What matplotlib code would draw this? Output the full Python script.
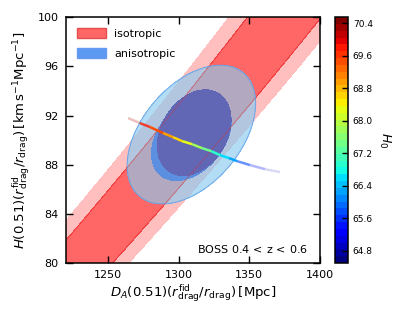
import numpy as np
import matplotlib
matplotlib.use('Agg')
import matplotlib.pyplot as plt
from matplotlib.collections import LineCollection
from matplotlib.patches import Patch
import matplotlib.colors as mcolors

# isotropic constraint: bands of constant DA^2/H (edges)
iso_K_2sig = [17840, 19990]
iso_K_1sig = [18190, 19630]

# anisotropic constraint: mean, errors, correlation
aniso_mean = [1309.0, 90.45]     # DA, H
aniso_sigma = [18.3, 2.27]
aniso_corr = 0.45

# 68% region: outer (lighter) part and darker core
inner_mean = [1309.0, 90.2]
inner_sigma = [18.6, 2.3]
inner_corr = 0.38
core_mean = [1311.0, 90.6]
core_sigma = [17.2, 2.3]
core_corr = 0.3

# samples coloured by H0 (points along the degeneracy line)
line_DA = [1264.2, 1272.7, 1279.8, 1289.0, 1296.0, 1302.4, 1309.5, 1316.5,
           1322.9, 1329.3, 1335.6, 1341.3, 1350.5, 1361.1, 1371.7]
line_H = [91.79, 91.38, 91.06, 90.57, 90.24, 89.92, 89.67, 89.35,
          89.11, 88.78, 88.54, 88.29, 87.97, 87.64, 87.40]
line_H0 = [70.4, 70.0, 69.6, 69.2, 68.8, 68.4, 68.0, 67.6,
           67.2, 66.8, 66.4, 66.0, 65.6, 65.2, 64.8]

H0_min, H0_max = 64.5, 70.55
cb_ticks = [64.8, 65.6, 66.4, 67.2, 68.0, 68.8, 69.6, 70.4]

fig = plt.figure(figsize=(4.05, 3.17), dpi=100)
ax = fig.add_axes([0.162, 0.170, 0.628, 0.776])
cax = fig.add_axes([0.827, 0.170, 0.032, 0.776])

# grid for the likelihood surfaces
X, Y = np.meshgrid(np.linspace(1220, 1400, 500), np.linspace(80, 100, 500))

def chi2_map(mean, sig, r):
    dx = (X - mean[0]) / sig[0]
    dy = (Y - mean[1]) / sig[1]
    return (dx**2 - 2 * r * dx * dy + dy**2) / (1 - r**2)

# isotropic bands
K = X**2 / Y
light = (1, 0, 0, 0.25)
dark = (1, 0, 0, 0.6)
ax.contourf(X, Y, K, levels=[iso_K_2sig[0], iso_K_1sig[0], iso_K_1sig[1], iso_K_2sig[1]],
            colors=[light, dark, light])
ax.contour(X, Y, K, levels=iso_K_1sig, colors=[(0.85, 0.2, 0.2, 0.5)], linewidths=0.6)

# anisotropic ellipses
chi2 = chi2_map(aniso_mean, aniso_sigma, aniso_corr)
outer = (0.54, 0.80, 0.94, 0.66)
ax.contourf(X, Y, chi2, levels=[0, 6.17], colors=[outer])
ax.contour(X, Y, chi2, levels=[6.17], colors=[(0.35, 0.6, 0.9, 0.7)], linewidths=0.8)
inner = chi2_map(inner_mean, inner_sigma, inner_corr)
ax.contourf(X, Y, inner, levels=[0, 2.30], colors=[(0.36, 0.56, 0.88)])
core = chi2_map(core_mean, core_sigma, core_corr)
ax.contourf(X, Y, core, levels=[0, 2.30], colors=[(0.38, 0.40, 0.71)])

# H0 coloured line
cmap = plt.get_cmap('jet', 36)
norm = mcolors.Normalize(vmin=H0_min, vmax=H0_max)
pts = np.column_stack([line_DA, line_H])
segs = np.stack([pts[:-1], pts[1:]], axis=1)
seg_h0 = 0.5 * (np.array(line_H0[:-1]) + np.array(line_H0[1:]))
cols = cmap(norm(seg_h0))
cols[:, 3] = [0.25, 0.8, 1, 1, 1, 1, 1, 1, 1, 1, 1, 0.6, 0.3, 0.15]
lc = LineCollection(segs, colors=cols, linewidths=1.8, capstyle='butt')
ax.add_collection(lc)

ax.set_xlim(1220, 1400)
ax.set_ylim(80, 100)
ax.set_xticks([1250, 1300, 1350, 1400])
ax.set_yticks([80, 84, 88, 92, 96, 100])
ax.tick_params(direction='in', top=True, right=True, length=5, width=1, labelsize=8, pad=5)
for s in ax.spines.values():
    s.set_linewidth(1.1)

ax.set_xlabel(r'$D_A(0.51)(r_{\rm drag}^{\rm fid}/r_{\rm drag})\,[{\rm Mpc}]$', fontsize=9.5, labelpad=2)
ax.set_ylabel(r'$H(0.51)(r_{\rm drag}^{\rm fid}/r_{\rm drag})\,[{\rm km\,s^{-1}Mpc^{-1}}]$',
              fontsize=9.5, labelpad=4)
ax.text(0.953, 0.057, r'BOSS $0.4\,<\,{\rm z}\,<\,0.6$', transform=ax.transAxes,
        ha='right', va='center', fontsize=8)

handles = [Patch(facecolor=dark, edgecolor=(0.9, 0.3, 0.3)),
           Patch(facecolor=(0.36, 0.6, 0.94), edgecolor=(0.4, 0.6, 0.95))]
ax.legend(handles, ['isotropic', 'anisotropic'], loc='upper left', frameon=False,
          fontsize=8, handlelength=2.6, handleheight=1.0, borderaxespad=0.6, labelspacing=0.8)

sm = plt.cm.ScalarMappable(norm=norm, cmap=cmap)
cb = fig.colorbar(sm, cax=cax, ticks=cb_ticks)
cb.ax.tick_params(direction='in', length=4, width=1, labelsize=6.5)
cb.ax.set_yticklabels(['%.1f' % t for t in cb_ticks])
cb.outline.set_linewidth(1.1)
cb.set_label(r'$H_0$', rotation=270, fontsize=9, labelpad=14)

fig.savefig('out.png', dpi=100)
